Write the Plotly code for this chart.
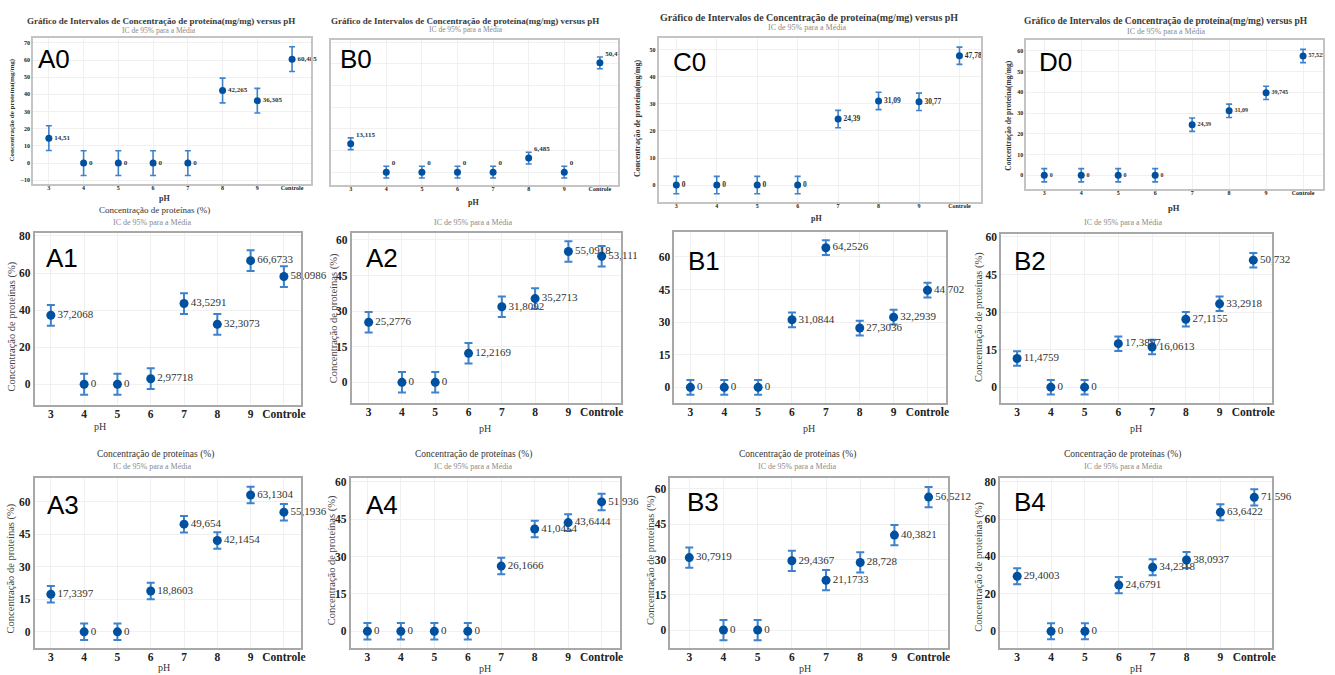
import plotly.graph_objects as go

W, H = 1335, 675

categories = ["3", "4", "5", "6", "7", "8", "9", "Controle"]

A0_values = [14.51, 0, 0, 0, 0, 42.265, 36.305, 60.485]
A0_ci = 7.2
B0_values = [13.115, 0, 0, 0, 0, 6.485, 0, 50.4]
B0_ci = 2.7
C0_values = [0, 0, 0, 0, 24.39, 31.09, 30.77, 47.78]
C0_ci = 3.2
D0_values = [0, 0, 0, 0, 24.39, 31.09, 39.745, 57.525]
D0_ci = 3.2
A1_values = [37.2068, 0, 0, 2.97718, 43.5291, 32.3073, 66.6733, 58.0986]
A1_ci = 5.6
A2_values = [25.2776, 0, 0, 12.2169, 31.8092, 35.2713, 55.0918, 53.111]
A2_ci = 4.3
B1_values = [0, 0, 0, 31.0844, 64.2526, 27.3036, 32.2939, 44.702]
B1_ci = 3.4
B2_values = [11.4759, 0, 0, 17.3897, 16.0613, 27.1155, 33.2918, 50.732]
B2_ci = 2.9
A3_values = [17.3397, 0, 0, 18.8603, 49.654, 42.1454, 63.1304, 55.1936]
A3_ci = 3.8
A4_values = [0, 0, 0, 0, 26.1666, 41.0454, 43.6444, 51.936]
A4_ci = 3.3
B3_values = [30.7919, 0, 0, 29.4367, 21.1733, 28.728, 40.3821, 56.5212]
B3_ci = 4.3
B4_values = [29.4003, 0, 0, 24.6791, 34.2318, 38.0937, 63.6422, 71.596]
B4_ci = 4.3

title_mg = "Gráfico de Intervalos de Concentração de proteína(mg/mg) versus pH"
title_pct = "Concentração de proteínas (%)"
subtitle = "IC de 95% para a Média"
ytitle_mg = "Concentração de proteína(mg/mg)"
ytitle_pct = "Concentração de proteínas (%)"
xtitle = "pH"

# panel layout: (name, values, ci, box px (x0,x1,y0,y1), yrange, xrange, ytick0, ytick1, dtick,
#  small, show y labels, textposition, label center px, value-label size)
panels = [
    ("A0", A0_values, A0_ci, (33, 312, 35, 182), (-12.3, 72.9), (-0.46, 7.54), -10, 70, 10, True, True, "middle right", (54, 56), 7),
    ("B0", B0_values, B0_ci, (332, 620, 37, 183), (-6, 61), (-0.56, 7.5), 0, 60, 10, True, False, "top right", (357, 56), 7),
    ("C0", C0_values, C0_ci, (661, 985, 35, 200), (-6.3, 54.4), (-0.44, 7.54), 0, 50, 10, True, True, "middle right", (692, 59), 7.5),
    ("D0", D0_values, D0_ci, (1030, 1328, 37, 187), (-6.7, 65.3), (-0.49, 7.54), 0, 60, 10, True, True, "middle right", (1059, 59), 6),
    ("A1", A1_values, A1_ci, (35, 302, 231, 404), (-11.3, 81.6), (-0.48, 7.51), 0, 80, 20, False, True, "middle right", (62, 256), 11),
    ("A2", A2_values, A2_ci, (353, 623, 231, 402), (-8.8, 62.9), (-0.51, 7.57), 0, 60, 15, False, True, "middle right", (383, 256), 11),
    ("B1", B1_values, B1_ci, (677, 950, 230, 402), (-7.3, 71.5), (-0.47, 7.56), 0, 60, 15, False, True, "middle right", (707, 259), 11),
    ("B2", B2_values, B2_ci, (1005, 1277, 232, 402), (-6.4, 61.2), (-0.47, 7.56), 0, 60, 15, False, True, "middle right", (1034, 259), 11),
    ("A3", A3_values, A3_ci, (35, 302, 477, 648), (-7.5, 71.0), (-0.48, 7.51), 0, 60, 15, False, True, "middle right", (63, 504), 11),
    ("A4", A4_values, A4_ci, (352, 622, 477, 648), (-6.8, 61.6), (-0.5, 7.54), 0, 60, 15, False, True, "middle right", (383, 504), 11),
    ("B3", B3_values, B3_ci, (673, 952, 477, 648), (-7.7, 64.7), (-0.55, 7.58), 0, 60, 15, False, True, "middle right", (706, 501), 11),
    ("B4", B4_values, B4_ci, (1004, 1277, 477, 648), (-9, 82), (-0.5, 7.53), 0, 80, 20, False, True, "middle right", (1034, 501), 11),
]

# text annotations: (text, x px, y px, size, color, bold, angle)
texts = [
    (title_mg, 162, 18, 9, "#3a3a3a", True, 0),
    (subtitle, 160, 28, 7.5, "#8a8a8a", False, 0),
    (title_mg, 467, 18, 9, "#3a3a3a", True, 0),
    (subtitle, 468, 27, 7.5, "#8a8a8a", False, 0),
    (title_mg, 812, 15, 10, "#3a3a3a", True, 0),
    (subtitle, 810, 25, 8, "#8a8a8a", False, 0),
    (title_mg, 1170, 19, 9.5, "#3a3a3a", True, 0),
    (subtitle, 1170, 29, 8, "#8a8a8a", False, 0),
    (ytitle_mg, 12, 107, 7, "#333333", True, -90),
    (ytitle_mg, 640, 116, 8, "#333333", True, -90),
    (ytitle_mg, 1012, 113, 7.5, "#333333", True, -90),
    (xtitle, 165, 196, 8, "#333333", True, 0),
    (xtitle, 475, 200, 8, "#333333", True, 0),
    (xtitle, 820, 216, 8, "#333333", True, 0),
    (xtitle, 1178, 206, 8.5, "#333333", True, 0),
    (title_pct, 155, 208, 9, "#333333", False, 0),
    (subtitle, 153, 220, 8, "#8a8a8a", False, 0),
    (subtitle, 475, 220, 8, "#8a8a8a", False, 0),
    (subtitle, 1127, 220, 8, "#8a8a8a", False, 0),
    (ytitle_pct, 12, 325, 10.5, "#444444", False, -90),
    (ytitle_pct, 335, 317, 10.5, "#444444", False, -90),
    (ytitle_pct, 982, 315, 10.5, "#444444", False, -90),
    (xtitle, 100, 425, 10, "#333333", False, 0),
    (xtitle, 487, 427, 10, "#333333", False, 0),
    (xtitle, 812, 427, 10, "#333333", False, 0),
    (xtitle, 1140, 427, 10, "#333333", False, 0),
    (title_pct, 156, 454, 9.5, "#333333", False, 0),
    (subtitle, 153, 466, 8, "#8a8a8a", False, 0),
    (title_pct, 475, 454, 9.5, "#333333", False, 0),
    (subtitle, 475, 466, 8, "#8a8a8a", False, 0),
    (title_pct, 800, 454, 9.5, "#333333", False, 0),
    (subtitle, 800, 466, 8, "#8a8a8a", False, 0),
    (title_pct, 1127, 454, 9.5, "#333333", False, 0),
    (subtitle, 1127, 466, 8, "#8a8a8a", False, 0),
    (ytitle_pct, 12, 568, 10.5, "#444444", False, -90),
    (ytitle_pct, 333, 560, 10.5, "#444444", False, -90),
    (ytitle_pct, 653, 560, 10.5, "#444444", False, -90),
    (ytitle_pct, 983, 566, 10.5, "#444444", False, -90),
    (xtitle, 165, 667, 10, "#333333", False, 0),
    (xtitle, 487, 668, 10, "#333333", False, 0),
    (xtitle, 808, 668, 10, "#333333", False, 0),
    (xtitle, 1140, 668, 10, "#333333", False, 0),
]

SERIF = "Liberation Serif, Times New Roman, serif"
MARKER = "#0050a0"
ERR = "#3f82cc"


def fmt(v):
    return f"{v:g}".replace(".", ",")


fig = go.Figure()
annotations = []

for i, (name, vals, ci, box, yr, xr, t0, t1, dt, small, showy, tpos, lab, lsize) in enumerate(panels):
    k = "" if i == 0 else str(i + 1)
    x0, x1, y0, y1 = box
    fig.add_trace(go.Scatter(
        x=categories, y=vals, mode="markers+text",
        text=[fmt(v) for v in vals], textposition=tpos,
        textfont=dict(family=SERIF, size=lsize, color="#333333",
                      weight="bold" if small else "normal"),
        marker=dict(color=MARKER, size=7 if small else 9),
        error_y=dict(type="constant", value=ci, color=ERR, thickness=1.6 if small else 2,
                     width=3 if small else 4),
        cliponaxis=False, showlegend=False,
        xaxis="x" + k, yaxis="y" + k,
    ))
    tickfont = dict(family=SERIF, size=6 if small else 11.5, color="#222222",
                    weight="bold")
    fig.layout["xaxis" + k] = dict(
        domain=[x0 / W, x1 / W], anchor="y" + k, type="category",
        categoryorder="array", categoryarray=categories,
        range=list(xr), showline=True, mirror=True,
        linecolor="#c4c4c4" if small else "#a8a8a8", linewidth=1.5 if small else 2,
        showgrid=True, gridcolor="#f0f0f0", zeroline=False, ticks="",
        ticklabelstandoff=-3,
        tickfont=tickfont, fixedrange=True,
    )
    fig.layout["yaxis" + k] = dict(
        domain=[1 - y1 / H, 1 - y0 / H], anchor="x" + k,
        range=list(yr), tickmode="array",
        tickvals=list(range(t0, t1 + 1, dt)),
        showline=True, mirror=True,
        linecolor="#c4c4c4" if small else "#a8a8a8", linewidth=1.5 if small else 2,
        showgrid=True, gridcolor="#f0f0f0", zeroline=False, ticks="",
        showticklabels=showy, tickfont=tickfont, fixedrange=True,
    )
    annotations.append(dict(
        text=name, x=lab[0] / W, y=1 - lab[1] / H, xref="paper", yref="paper",
        showarrow=False, xanchor="center", yanchor="middle",
        font=dict(family="Liberation Sans, Arial, sans-serif", size=26, color="#000000"),
    ))

for (t, x, y, s, c, b, ang) in texts:
    annotations.append(dict(
        text=t, x=x / W, y=1 - y / H, xref="paper", yref="paper",
        showarrow=False, xanchor="center", yanchor="middle", textangle=ang,
        font=dict(family=SERIF, size=s, color=c, weight="bold" if b else "normal"),
    ))

fig.update_layout(
    width=W, height=H, margin=dict(l=0, r=0, t=0, b=0),
    paper_bgcolor="white", plot_bgcolor="white",
    annotations=annotations, showlegend=False,
)

fig.write_html(
    "out.html",
    config={"displayModeBar": False},
    post_script="document.body.style.margin='0';document.body.style.padding='0';"
                "document.body.style.overflow='hidden';",
)
